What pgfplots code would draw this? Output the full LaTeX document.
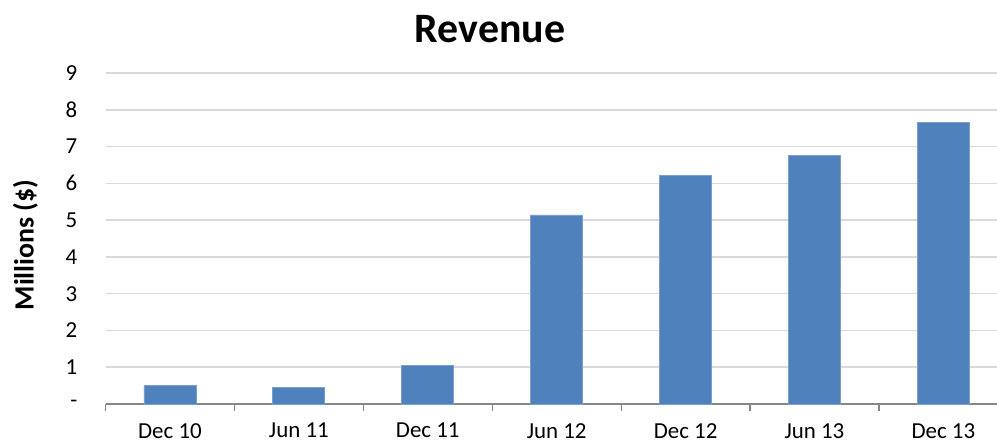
\documentclass[border=0pt]{standalone}
\usepackage{fontspec}
\setmainfont{Carlito}
\usepackage{pgfplots}
\pgfplotsset{compat=1.18}
\definecolor{barblue}{HTML}{4F81BD}
\definecolor{baredge}{HTML}{7A9FCC}
\definecolor{gridgray}{HTML}{D9D9D9}
\definecolor{axisgray}{HTML}{868686}
\begin{document}
\begin{tikzpicture}
\begin{axis}[
  at={(0,0)}, anchor=south west,
  scale only axis,
  width=891.5bp, height=331bp,
  xmin=-0.5, xmax=6.416,
  ymin=0, ymax=9,
  axis x line*=bottom,
  axis y line*=left,
  y axis line style={draw=none},
  x axis line style={draw=axisgray, line width=1.2bp, -},
  xtick={0,1,2,3,4,5,6},
  xticklabels={Dec 10,Jun 11,Dec 11,Jun 12,Dec 12,Jun 13,Dec 13},
  major tick length=0pt,
  extra x ticks={-0.5,0.5,1.5,2.5,3.5,4.5,5.5},
  extra x tick labels={},
  extra x tick style={major tick length=7bp, tick align=outside, xmajorgrids=false, tick style={draw=axisgray, line width=1.2bp}},
  ytick={0,1,2,3,4,5,6,7,8,9},
  yticklabels={{-\hspace{10bp}},1,2,3,4,5,6,7,8,9},
  ymajorgrids,
  xmajorgrids=false,
  grid style={draw=gridgray, line width=1.6bp},
  x tick label style={font=\fontsize{23}{27}\selectfont, inner sep=0pt, anchor=north, yshift=-19bp},
  y tick label style={font=\fontsize{23}{27}\selectfont, inner sep=0pt, anchor=east, xshift=-28bp},
  clip=false,
]
\addplot[ybar, bar width=52bp, fill=barblue, draw=baredge, line width=0.8bp] coordinates {
  (0,0.50) (1,0.45) (2,1.06) (3,5.14) (4,6.21) (5,6.75) (6,7.66)
};
\end{axis}
\node[anchor=base, font=\bfseries\fontsize{42}{50}\selectfont, inner sep=0pt] at (384.5bp,361bp) {Revenue};
\node[rotate=90, font=\bfseries\fontsize{28}{32}\selectfont, inner sep=0pt] at (-80bp,159bp) {Millions (\$)};
\pgfresetboundingbox
\path[use as bounding box] (-105.5bp,-39bp) rectangle (891.5bp,404bp);
\end{tikzpicture}
\end{document}
